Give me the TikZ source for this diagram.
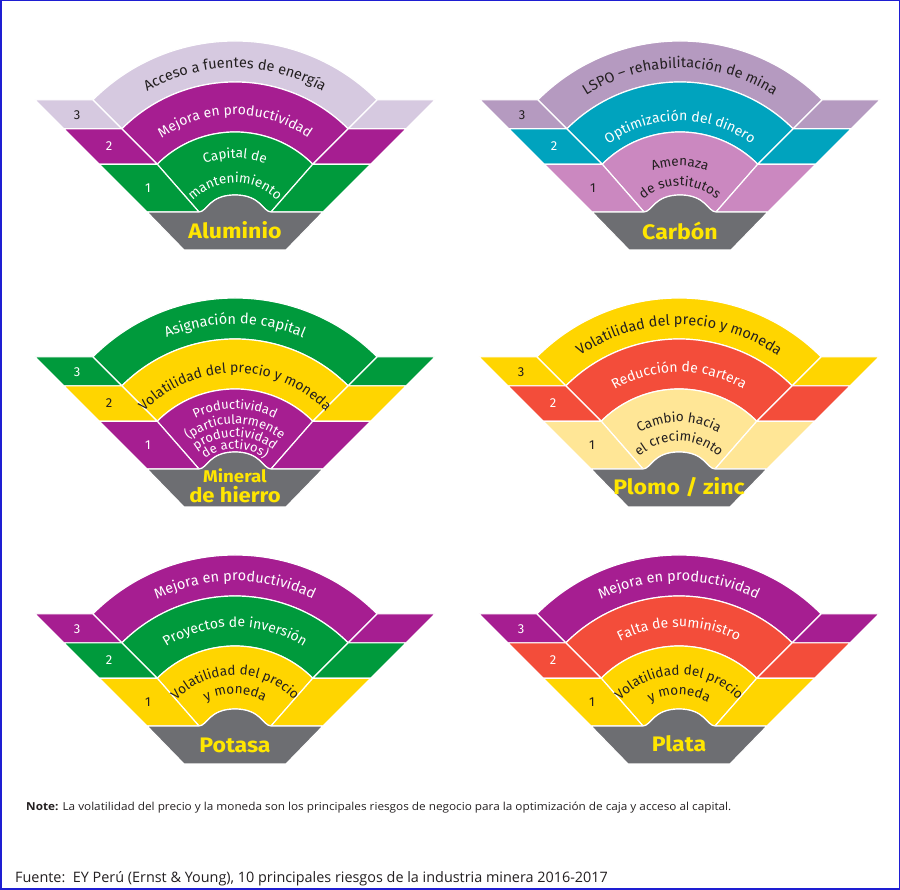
\documentclass[tikz,border=0pt]{standalone}
\usepackage{fontspec}
\setmainfont{Fira Sans}
\newfontfamily\metalfont[FakeStretch=1.1]{Fira Sans}
\newfontfamily\notefont[FakeStretch=1.07]{Open Sans}
\newfontfamily\srcfont{Open Sans}
\usetikzlibrary{calc,decorations.text}

\definecolor{ink}{RGB}{35,31,32}
\definecolor{eyyellow}{RGB}{255,230,0}
\definecolor{basegray}{RGB}{109,110,114}
\definecolor{lilac}{RGB}{214,201,224}
\definecolor{mauve}{RGB}{181,154,192}
\definecolor{eypurple}{RGB}{166,30,145}
\definecolor{eypink}{RGB}{203,136,192}
\definecolor{eygreen}{RGB}{0,154,60}
\definecolor{eyteal}{RGB}{0,163,190}
\definecolor{bandyellow}{RGB}{255,213,0}
\definecolor{paleyellow}{RGB}{255,230,150}
\definecolor{coral}{RGB}{243,77,58}
\definecolor{framblue}{RGB}{30,30,210}

\tikzset{
  band/.style={draw=white, line width=1.2pt},
  ranknum/.style={font=\fontsize{13}{13}\selectfont, inner sep=0pt},
  metal/.style={font=\metalfont\fontsize{21}{21}\selectfont\bfseries, text=eyyellow, inner sep=0pt, anchor=base},
}

% one outer ring of a fan: outer radius, inner radius, colour
\newcommand\fanband[3]{%
  \filldraw[band, fill=#3] (135:#1) arc[start angle=135, end angle=45, radius=#1]
    -- (45:#2) arc[start angle=45, end angle=135, radius=#2] -- cycle;
  \filldraw[band, fill=#3] (135:#1) -- ++(-58,0) -- ($(135:#2)+(-58,0)$) -- (135:#2) -- cycle;
  \filldraw[band, fill=#3] (45:#1) -- ++(58,0) -- ($(45:#2)+(58,0)$) -- (45:#2) -- cycle;
}
% inner ring, dome and grey base
\newcommand\fancore[1]{%
  \filldraw[band, fill=#1] (135:110) arc[start angle=135, end angle=45, radius=110]
    -- (36,30) .. controls (28,30) and (26,47) .. (0,47) .. controls (-26,47) and (-28,30) .. (-36,30) -- cycle;
  \filldraw[band, fill=#1] (135:110) -- ++(-58,0) -- (-88,30) -- (-36,30) -- cycle;
  \filldraw[band, fill=#1] (45:110) -- ++(58,0) -- (88,30) -- (36,30) -- cycle;
  \filldraw[band, fill=basegray] (-88,30) -- (-36,30) .. controls (-28,30) and (-26,47) .. (0,47)
    .. controls (26,47) and (28,30) .. (36,30) -- (88,30) -- (51,-8) -- (-51,-8) -- cycle;
}
% rank numbers on the left wings
\newcommand\fannums[4]{%
  \node[ranknum, text=#2] (#1three) at (-158,127) {3};
  \node[ranknum, text=#3] (#1two) at (-126,96) {2};
  \node[ranknum, text=#4] (#1one) at (-87,54) {1};
}
% curved text: radius, size, colour, text
\newcommand\arclabel[4]{%
  \path[decorate, decoration={text along path, text align=center, text color=#3,
    text={|\fontsize{#2}{#2}\selectfont|#4}}]
    (160:#1) arc[start angle=160, end angle=20, radius=#1];
}

\begin{document}
\begin{tikzpicture}[x=1pt, y=1pt]
\useasboundingbox (0,0) rectangle (900,890);

% Aluminio
\begin{scope}[shift={(235,648)}]
\fanband{201}{160}{lilac}
\fanband{160}{110}{eypurple}
\fancore{eygreen}
\fannums{alu}{ink}{white}{white}
\arclabel{174}{14.5}{ink}{Acceso a fuentes de energía}
\arclabel{127}{14}{white}{Mejora en productividad}
\arclabel{84}{13.5}{white}{Capital de}
\arclabel{59}{13.5}{white}{mantenimiento}
\node[metal] (alu) at (0,3) {Aluminio};
\end{scope}

% Carbon
\begin{scope}[shift={(680,648)}]
\fanband{201}{160}{mauve}
\fanband{160}{110}{eyteal}
\fancore{eypink}
\fannums{car}{ink}{white}{ink}
\arclabel{174}{14.5}{ink}{LSPO – rehabilitación de mina}
\arclabel{121}{14}{white}{Optimización del dinero}
\arclabel{76}{13.5}{ink}{Amenaza}
\arclabel{56}{13.5}{ink}{de sustitutos}
\node[metal] (car) at (0,2) {Carbón};
\end{scope}

% Mineral de hierro
\begin{scope}[shift={(235,391)}]
\fanband{201}{160}{eygreen}
\fanband{160}{110}{bandyellow}
\fancore{eypurple}
\fannums{hie}{white}{ink}{white}
\arclabel{175}{14.5}{white}{Asignación de capital}
\arclabel{126}{14}{ink}{Volatilidad del precio y moneda}
\arclabel{90}{13}{white}{Productividad}
\arclabel{75}{13}{white}{(particularmente}
\arclabel{62}{13}{white}{productividad}
\arclabel{50}{13}{white}{de activos)}
\node[metal, font=\metalfont\fontsize{17}{17}\selectfont\bfseries] (hieA) at (0,16) {Mineral};
\node[metal, font=\metalfont\fontsize{20}{20}\selectfont\bfseries] (hieB) at (0,-4) {de hierro};
\end{scope}

% Plomo / zinc
\begin{scope}[shift={(679,391)}]
\fanband{201}{160}{bandyellow}
\fanband{160}{110}{coral}
\fancore{paleyellow}
\fannums{plo}{ink}{white}{ink}
\arclabel{174}{14.5}{ink}{Volatilidad del precio y moneda}
\arclabel{127}{14}{white}{Reducción de cartera}
\arclabel{77}{13.5}{ink}{Cambio hacia}
\arclabel{58}{13.5}{ink}{el crecimiento}
\node[metal] (plo) at (0,4) {Plomo / zinc};
\end{scope}

% Potasa
\begin{scope}[shift={(235,134)}]
\fanband{201}{160}{eypurple}
\fanband{160}{110}{eygreen}
\fancore{bandyellow}
\fannums{pot}{white}{white}{ink}
\arclabel{175}{14.5}{white}{Mejora en productividad}
\arclabel{129}{14}{white}{Proyectos de inversión}
\arclabel{81}{13.5}{ink}{Volatilidad del precio}
\arclabel{62}{13.5}{ink}{y moneda}
\node[metal] (pot) at (0,3) {Potasa};
\end{scope}

% Plata
\begin{scope}[shift={(679,134)}]
\fanband{201}{160}{eypurple}
\fanband{160}{110}{coral}
\fancore{bandyellow}
\fannums{pla}{white}{white}{ink}
\arclabel{175}{14.5}{white}{Mejora en productividad}
\arclabel{129}{14}{white}{Falta de suministro}
\arclabel{81}{13.5}{ink}{Volatilidad del precio}
\arclabel{61}{13.5}{ink}{y moneda}
\node[metal] (pla) at (0,4) {Plata};
\end{scope}

\node[anchor=base west, inner sep=0pt, text=ink, font=\notefont\fontsize{11}{13}\selectfont] (note) at (26,79)
  {\textbf{Note:} La volatilidad del precio y la moneda son los principales riesgos de negocio para la optimización de caja y acceso al capital.};
\node[anchor=base west, inner sep=0pt, text=ink, font=\srcfont\fontsize{14.4}{16}\selectfont] (src) at (15,7)
  {Fuente:\ \ EY Perú (Ernst \& Young), 10 principales riesgos de la industria minera 2016-2017};
\draw[framblue, line width=1.5pt] (0.75,0.75) rectangle (899.25,889.25);
\end{tikzpicture}
\end{document}
